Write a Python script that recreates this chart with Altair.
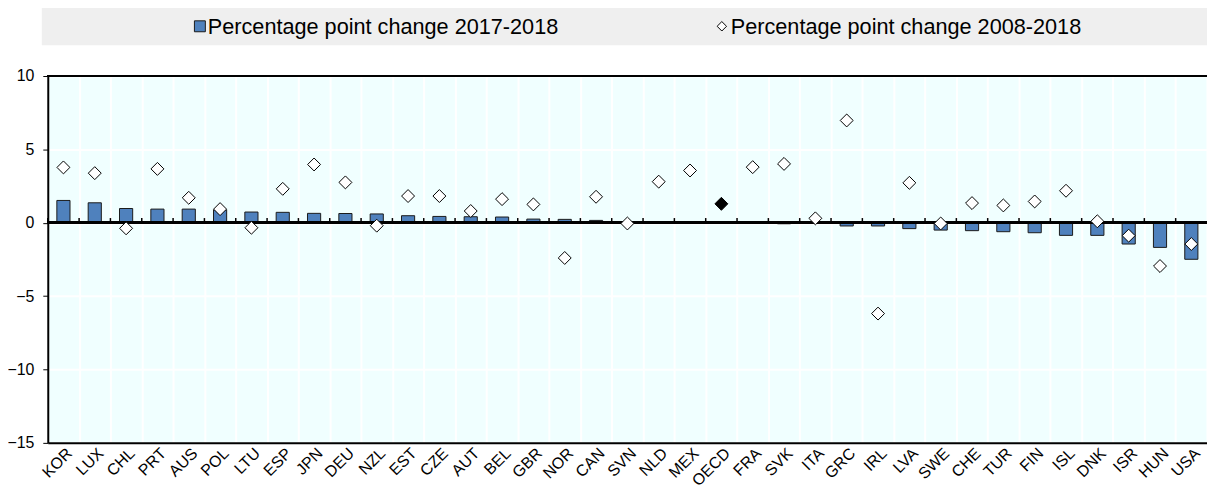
import altair as alt
import pandas as pd

countries = ["KOR", "LUX", "CHL", "PRT", "AUS", "POL", "LTU", "ESP", "JPN", "DEU", "NZL", "EST",
             "CZE", "AUT", "BEL", "GBR", "NOR", "CAN", "SVN", "NLD", "MEX", "OECD", "FRA", "SVK",
             "ITA", "GRC", "IRL", "LVA", "SWE", "CHE", "TUR", "FIN", "ISL", "DNK", "ISR", "HUN", "USA"]
change_2017_2018 = [1.52, 1.36, 0.97, 0.93, 0.93, 0.88, 0.73, 0.71, 0.64, 0.63, 0.60, 0.48,
                    0.43, 0.41, 0.39, 0.25, 0.23, 0.16, 0.02, 0.07, 0.07, 0.0, 0.0, -0.07,
                    -0.05, -0.22, -0.22, -0.40, -0.50, -0.54, -0.61, -0.68, -0.86, -0.86, -1.45, -1.68, -2.49]
change_2008_2018 = [3.77, 3.38, -0.38, 3.67, 1.70, 0.93, -0.34, 2.31, 3.97, 2.75, -0.20, 1.82,
                    1.82, 0.80, 1.61, 1.25, -2.40, 1.77, -0.05, 2.80, 3.56, 1.29, 3.79, 4.01,
                    0.30, 6.97, -6.19, 2.72, -0.05, 1.34, 1.18, 1.45, 2.18, 0.10, -0.88, -2.95, -1.45]
legend_labels = ["Percentage point change 2017-2018", "Percentage point change 2008-2018"]
y_ticks = [-15, -10, -5, 0, 5, 10]

FONT = "Liberation Sans"
BAR = "#4F81BD"
W, H = 1166, 369

df = pd.DataFrame({"country": countries, "bar": change_2017_2018, "diamond": change_2008_2018})

xscale = alt.Scale(domain=countries, paddingInner=0, paddingOuter=0)
yscale = alt.Scale(domain=[-15, 10], nice=False, zero=False)

xaxis = alt.Axis(orient="bottom", labelAngle=-45, labelAlign="right", labelBaseline="top",
                 labelFontSize=16, labelFont=FONT, labelColor="black", labelPadding=2,
                 labelBound=False, labelOverlap=False,
                 ticks=False, domainColor="black", domainWidth=2,
                 grid=True, gridColor="white", gridWidth=2, tickBand="extent")
yaxis = alt.Axis(values=y_ticks, labelFontSize=16, labelFont=FONT, labelColor="black",
                 labelPadding=9, tickSize=5, tickColor="black", domainColor="black",
                 domainWidth=2, grid=True, gridColor="white", gridWidth=2)

base = alt.Chart(df)

bars = base.mark_bar(width=alt.RelativeBandSize(0.42), color=BAR, stroke="#1a1a1a", strokeWidth=1).encode(
    x=alt.X("country:N", scale=xscale, sort=countries, title=None, axis=xaxis),
    y=alt.Y("bar:Q", scale=yscale, title=None, axis=yaxis),
)

zero = base.mark_rule(color="black", strokeWidth=2).encode(y=alt.datum(0))
top = base.mark_rule(color="black", strokeWidth=2).encode(y=alt.datum(10))

zero_ticks = base.mark_rule(color="black", strokeWidth=1.5).encode(
    x=alt.X("country:N", sort=countries, bandPosition=0),
    y=alt.datum(0),
    y2=alt.datum(0.32),
)

points = base.mark_point(shape="diamond", filled=True, size=169, stroke="black", strokeWidth=1, opacity=1).encode(
    x=alt.X("country:N", sort=countries),
    y=alt.Y("diamond:Q"),
    fill=alt.condition(alt.datum.country == "OECD", alt.value("black"), alt.value("white")),
)

one = pd.DataFrame({"a": [0]})
leg_bg = alt.Chart(one).mark_rect(color="#EFEFEF").encode(
    x=alt.value(-6), x2=alt.value(1175), y=alt.value(-69), y2=alt.value(-31))
leg_sq = alt.Chart(one).mark_square(size=121, color=BAR, stroke="#1a1a1a",
                                    strokeWidth=1, opacity=1).encode(
    x=alt.value(153), y=alt.value(-50))
leg_dm = alt.Chart(one).mark_point(shape="diamond", size=90, filled=True,
                                   fill="white", stroke="black", strokeWidth=1,
                                   opacity=1).encode(
    x=alt.value(678), y=alt.value(-50))
leg_t1 = alt.Chart(pd.DataFrame({"label": legend_labels[:1]})).mark_text(
    align="left", baseline="middle", fontSize=21.8, font=FONT, color="black").encode(
    x=alt.value(161), y=alt.value(-49), text="label:N")
leg_t2 = alt.Chart(pd.DataFrame({"label": legend_labels[1:]})).mark_text(
    align="left", baseline="middle", fontSize=21.8, font=FONT, color="black").encode(
    x=alt.value(687), y=alt.value(-49), text="label:N")

chart = alt.layer(bars, zero_ticks, zero, top, points, leg_bg, leg_sq, leg_dm, leg_t1, leg_t2).properties(
    width=W, height=H,
    autosize=alt.AutoSizeParams(type="none"),
    padding={"left": 40, "top": 67, "right": 0, "bottom": 44},
    background="white",
).configure_view(fill="#F0FFFF", stroke=None)

chart.save("out.html", embed_options={"renderer": "svg", "actions": False})
